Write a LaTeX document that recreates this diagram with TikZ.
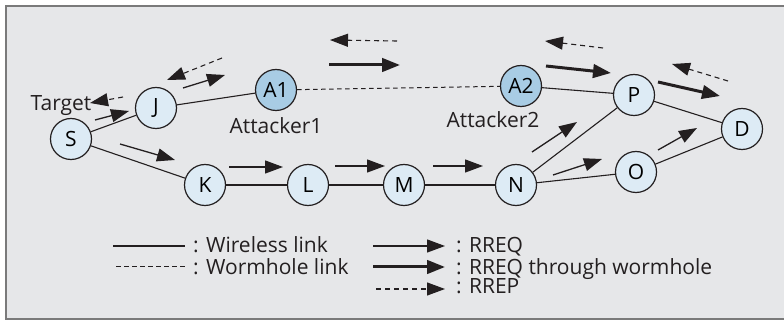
\documentclass[tikz,border=0pt]{standalone}
\usepackage{fontspec}
\setmainfont{Open Sans}
\usetikzlibrary{arrows.meta}
\definecolor{bg}{HTML}{E6E7E9}
\definecolor{frame}{HTML}{7A7A7A}
\definecolor{nodefill}{HTML}{DDEBF5}
\definecolor{attfill}{HTML}{A8CCE4}
\definecolor{ink}{HTML}{231F20}
\tikzset{
  nd/.style={circle, draw=ink, line width=1.2pt, fill=nodefill, minimum size=41pt, inner sep=0pt, font=\fontsize{21}{25}\selectfont},
  att/.style={nd, fill=attfill},
  lbl/.style={font=\fontsize{21}{25}\selectfont, inner sep=0pt, text=ink},
  wire/.style={draw=ink, line width=1.1pt},
  worm/.style={draw=ink, line width=1pt, dash pattern=on 4.5pt off 3.5pt},
  rreq/.style={draw=ink, line width=1.3pt, -{Triangle[length=18pt,width=13pt]}},
  rreqw/.style={draw=ink, line width=3pt, -{Triangle[length=18pt,width=13.5pt]}},
  rrep/.style={draw=ink, line width=1.1pt, dash pattern=on 5pt off 4pt, -{Triangle[length=18pt,width=13pt]}},
}
\begin{document}
\begin{tikzpicture}[x=1pt,y=-1pt]
\useasboundingbox (0,0) rectangle (784,320);
\fill[bg] (6,6) rectangle (790,319);
\draw[frame, line width=2pt] (790,6) -- (6,6) -- (6,319) -- (790,319);

% nodes
\node[nd] (S) at (71,139) {S};
\node[nd] (J) at (156,108) {J};
\node[att] (A1) at (276,90) {A1};
\node[nd] (K) at (205,185) {K};
\node[nd] (L) at (308,185) {L};
\node[nd] (M) at (404,185) {M};
\node[nd] (N) at (516,185) {N};
\node[nd] (O) at (636,172) {O};
\node[nd] (P) at (634,95) {P};
\node[att] (A2) at (521,86) {A2};
\node[nd] (D) at (742,129) {D};

% labels
\node[lbl] (tgt) at (61,106) {Target};
\node[lbl] (att1) at (276,126) {Attacker1};
\node[lbl] (att2) at (493,120) {Attacker2};

% links
\draw[wire] (S) -- (J);
\draw[wire] (J) -- (A1);
\draw[wire] (S) -- (K);
\draw[wire] (K) -- (L);
\draw[wire] (L) -- (M);
\draw[wire] (M) -- (N);
\draw[wire] (N) -- (O);
\draw[wire] (N) -- (P);
\draw[wire] (A2) -- (P);
\draw[wire] (P) -- (D);
\draw[wire] (O) -- (D);
\draw[worm] (A1) -- (A2);

% arrow coordinates
\coordinate (a1s) at (95,120);  \coordinate (a1e) at (129,111);
\coordinate (a2s) at (183,88);  \coordinate (a2e) at (225,75);
\coordinate (a3s) at (120,144); \coordinate (a3e) at (175,160);
\coordinate (a4s) at (229,167); \coordinate (a4e) at (283,167);
\coordinate (a5s) at (335,166); \coordinate (a5e) at (385,166);
\coordinate (a6s) at (433,166); \coordinate (a6e) at (483,166);
\coordinate (a7s) at (532,152); \coordinate (a7e) at (577,122);
\coordinate (a8s) at (553,175); \coordinate (a8e) at (602,159);
\coordinate (a9s) at (658,150); \coordinate (a9e) at (697,128);
\coordinate (t1s) at (329,65);  \coordinate (t1e) at (400,65);
\coordinate (t2s) at (546,66);  \coordinate (t2e) at (611,73);
\coordinate (t3s) at (658,82);  \coordinate (t3e) at (720,96);
\coordinate (d1s) at (397,41);  \coordinate (d1e) at (330,40);
\coordinate (d2s) at (603,48);  \coordinate (d2e) at (545,41);
\coordinate (d3s) at (728,81);  \coordinate (d3e) at (672,64);
\coordinate (d4s) at (222,58);  \coordinate (d4e) at (167,80);
\coordinate (d5s) at (123,97);  \coordinate (d5e) at (90,103);

\draw[rreq] (a1s) -- (a1e);
\draw[rreq] (a2s) -- (a2e);
\draw[rreq] (a3s) -- (a3e);
\draw[rreq] (a4s) -- (a4e);
\draw[rreq] (a5s) -- (a5e);
\draw[rreq] (a6s) -- (a6e);
\draw[rreq] (a7s) -- (a7e);
\draw[rreq] (a8s) -- (a8e);
\draw[rreq] (a9s) -- (a9e);
\draw[rreqw] (t1s) -- (t1e);
\draw[rreqw] (t2s) -- (t2e);
\draw[rreqw] (t3s) -- (t3e);
\draw[rrep] (d1s) -- (d1e);
\draw[rrep] (d2s) -- (d2e);
\draw[rrep] (d3s) -- (d3e);
\draw[rrep] (d4s) -- (d4e);
\draw[rrep] (d5s) -- (d5e);

% legend
\coordinate (l1s) at (113,246); \coordinate (l1e) at (185,246);
\coordinate (l2s) at (116,267); \coordinate (l2e) at (185,267);
\coordinate (l3s) at (373,246); \coordinate (l3e) at (445,246);
\coordinate (l4s) at (373,267); \coordinate (l4e) at (445,267);
\coordinate (l5s) at (376,289); \coordinate (l5e) at (445,289);
\draw[wire] (l1s) -- (l1e);
\draw[worm] (l2s) -- (l2e);
\draw[rreq] (l3s) -- (l3e);
\draw[rreqw] (l4s) -- (l4e);
\draw[rrep] (l5s) -- (l5e);
\node[lbl, anchor=base west] (t1) at (193,253) {: Wireless link};
\node[lbl, anchor=base west] (t2) at (193,274) {: Wormhole link};
\node[lbl, anchor=base west] (t3) at (456,253) {: RREQ};
\node[lbl, anchor=base west] (t4) at (456,274) {: RREQ through wormhole};
\node[lbl, anchor=base west] (t5) at (456,294) {: RREP};
\end{tikzpicture}
\end{document}
